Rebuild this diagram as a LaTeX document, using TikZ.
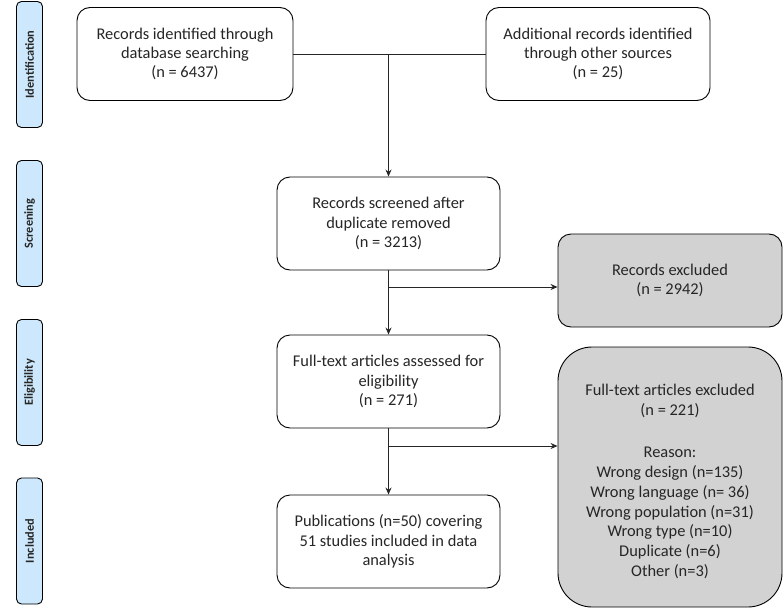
\documentclass[tikz,border=0pt]{standalone}
\usepackage{fontspec}
\setmainfont{Carlito}
\usetikzlibrary{arrows.meta}
\definecolor{phase}{HTML}{CDE8FC}
\definecolor{excl}{HTML}{D2D2D2}
\tikzset{
    box/.style={draw, rounded corners=13pt, line width=0.9pt, fill=white, text=black!85, align=center, font=\fontsize{16.4}{19.3}\selectfont, inner sep=0pt, minimum height=93pt},
    phasebox/.style={draw, rounded corners=5pt, line width=0.9pt, fill=phase, text=black!85, rotate=90, font=\fontsize{12.3}{14}\selectfont\bfseries, inner sep=0pt, minimum height=26pt, minimum width=126pt},
    exclbox/.style={box, fill=excl},
    link/.style={line width=0.9pt, draw=black!85},
    arrow/.style={link, -{Stealth[length=7pt,width=6pt]}}
}
\begin{document}
\begin{tikzpicture}[x=1pt,y=-1pt]
        \useasboundingbox (0,0) rectangle (784,610);

        \node [phasebox] (ident) at (29.5,64.5) {Identification};
        \node [phasebox] (screen) at (29.5,223.5) {Screening};
        \node [phasebox] (elig) at (29.5,382.5) {Eligibility};
        \node [phasebox] (incl) at (29.5,541) {Included};

        \node [box, minimum width=216pt] (db) at (185,54) {Records identified through\\database searching\\(n = 6437)};
        \node [box, minimum width=224pt] (other) at (598,54) {Additional records identified\\through other sources\\(n = 25)};
        \node [box, minimum width=223pt] (screened) at (388.5,223.5) {Records screened after\\duplicate removed\\(n = 3213)};
        \node [exclbox, minimum width=224pt] (excl1) at (670,280.5) {Records excluded\\(n = 2942)};
        \node [box, minimum width=223pt] (fulltext) at (388.5,381.5) {Full-text articles assessed for\\eligibility\\(n = 271)};
        \node [exclbox, rounded corners=34pt, minimum width=224pt, minimum height=260pt, font=\fontsize{16.4}{19.7}\selectfont] (excl2) at (670,477) {\rule{0pt}{20pt}Full-text articles excluded\\(n = 221)\\[23pt]Reason:\\Wrong design (n=135)\\Wrong language (n= 36)\\Wrong population (n=31)\\Wrong type (n=10)\\Duplicate (n=6)\\Other (n=3)};
        \node [box, minimum width=223pt] (pubs) at (388.5,541.5) {Publications (n=50) covering\\51 studies included in data\\analysis};

        \coordinate (j0) at (screened.north |- db.east);
        \coordinate (j1) at (389,287);
        \coordinate (j2) at (389,446);

        \draw [link] (db.east) -- (other.west);
        \draw [arrow] (j0) -- (screened.north);
        \draw [arrow] (screened.south) -- (fulltext.north);
        \draw [arrow] (j1) -- (j1 -| excl1.west);
        \draw [arrow] (fulltext.south) -- (pubs.north);
        \draw [arrow] (j2) -- (j2 -| excl2.west);
\end{tikzpicture}
\end{document}
